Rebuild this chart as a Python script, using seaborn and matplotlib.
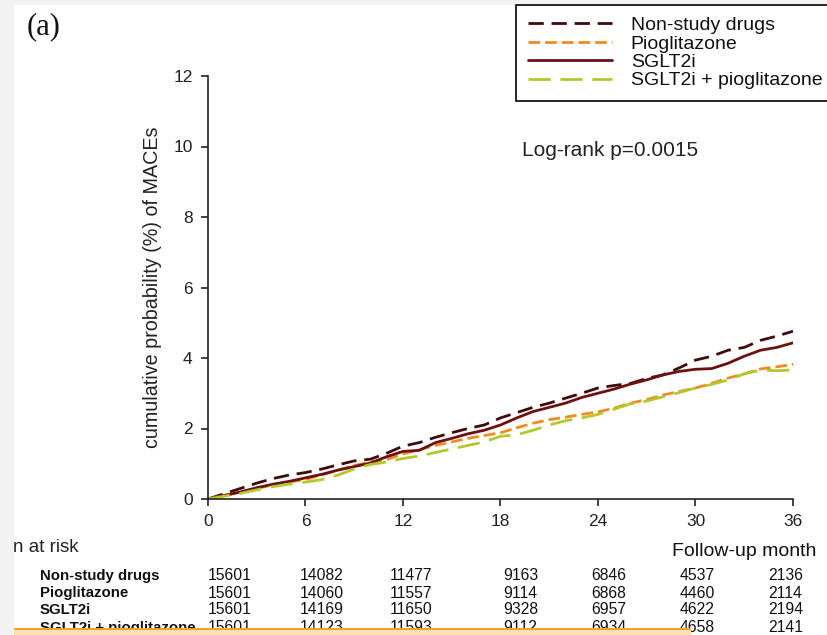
import numpy as np
import pandas as pd
import matplotlib
matplotlib.use("Agg")
import matplotlib.pyplot as plt
from matplotlib.patches import Rectangle
import seaborn as sns

months = list(range(0, 37))
non_study = [0, 0.15, 0.3, 0.45, 0.58, 0.68, 0.75, 0.85, 0.97, 1.08, 1.13, 1.3,
             1.5, 1.6, 1.75, 1.88, 2.0, 2.1, 2.3, 2.45, 2.6, 2.72, 2.86, 3.0,
             3.15, 3.22, 3.28, 3.42, 3.52, 3.72, 3.94, 4.05, 4.22, 4.3, 4.5, 4.62, 4.76]
sglt2i = [0, 0.1, 0.2, 0.32, 0.42, 0.5, 0.6, 0.7, 0.82, 0.92, 1.02, 1.2,
          1.35, 1.38, 1.6, 1.72, 1.85, 1.95, 2.1, 2.3, 2.48, 2.6, 2.72, 2.88,
          3.0, 3.12, 3.26, 3.38, 3.52, 3.62, 3.68, 3.7, 3.85, 4.05, 4.22, 4.3, 4.43]
pioglitazone = [0, 0.1, 0.2, 0.3, 0.4, 0.48, 0.56, 0.68, 0.82, 0.95, 1.05, 1.12,
                1.28, 1.4, 1.52, 1.62, 1.72, 1.8, 1.88, 2.02, 2.15, 2.25, 2.32, 2.4,
                2.47, 2.58, 2.72, 2.82, 2.95, 3.05, 3.15, 3.28, 3.43, 3.55, 3.69, 3.75, 3.82]
sglt2i_pio = [0, 0.08, 0.16, 0.26, 0.35, 0.42, 0.48, 0.55, 0.68, 0.85, 0.98, 1.05,
              1.15, 1.22, 1.32, 1.42, 1.52, 1.62, 1.78, 1.82, 1.95, 2.1, 2.22, 2.3,
              2.4, 2.55, 2.7, 2.78, 2.9, 3.02, 3.15, 3.25, 3.38, 3.55, 3.66, 3.64, 3.66]

groups = ["Non-study drugs", "Pioglitazone", "SGLT2i", "SGLT2i + pioglitazone"]
series = [non_study, pioglitazone, sglt2i, sglt2i_pio]
colors = ["#3f0b0b", "#f28a1e", "#6e1010", "#b3c82b"]
dash_styles = [(5.5, 2.8), (4.2, 1.8), "", (8, 3.5)]

risk_ticks = ["0", "6", "12", "18", "24", "30", "36"]
risk_non_study = [15601, 14082, 11477, 9163, 6846, 4537, 2136]
risk_pio = [15601, 14060, 11557, 9114, 6868, 4460, 2114]
risk_sglt2i = [15601, 14169, 11650, 9328, 6957, 4622, 2194]
risk_combo = [15601, 14123, 11593, 9112, 6934, 4658, 2141]

df = pd.concat([pd.DataFrame({"month": months, "prob": s, "group": g})
                for g, s in zip(groups, series)], ignore_index=True)

sns.set_style("ticks")
plt.rcParams["font.family"] = ["Liberation Sans", "DejaVu Sans"]

W, H = 828, 635
fig = plt.figure(figsize=(W / 100, H / 100), dpi=100)
fig.patch.set_facecolor("#f2f2f2")


def fx(px):
    return px / W


def fy(py):
    return 1 - py / H


bg = Rectangle((fx(14), 0), 1 - fx(14), 1 - 5 / H, transform=fig.transFigure,
               facecolor="white", edgecolor="none")
bg.set_zorder(-10)
fig.add_artist(bg)

ax = fig.add_axes([fx(208), fy(499), fx(793) - fx(208), fy(76) - fy(499)])
ax.set_facecolor("none")
ax.set_zorder(1)

sns.lineplot(data=df, x="month", y="prob", hue="group", style="group",
             hue_order=groups, style_order=groups,
             palette=dict(zip(groups, colors)),
             dashes=dict(zip(groups, dash_styles)),
             linewidth=2.0, legend=False, ax=ax)

ax.set_xlim(0, 36)
ax.set_ylim(0, 12)
ax.set_xticks([0, 6, 12, 18, 24, 30, 36])
ax.set_xticklabels(risk_ticks)
ax.set_yticks([0, 2, 4, 6, 8, 10, 12])
ax.set_xlabel("")
ax.set_ylabel("cumulative probability (%) of MACEs", fontsize=14.2, color="#222222", labelpad=8)
ax.tick_params(axis="both", labelsize=12.5, colors="#222222", length=5, width=1.2, pad=6)
for sp in ["top", "right"]:
    ax.spines[sp].set_visible(False)
for sp in ["left", "bottom"]:
    ax.spines[sp].set_linewidth(1.2)
    ax.spines[sp].set_color("#222222")

fig.text(fx(522), fy(150), "Log-rank p=0.0015", fontsize=15, color="#222222",
         va="center", ha="left")

handles = ax.get_lines()[:4]
leg = fig.legend(handles, groups, loc="upper left", bbox_to_anchor=(fx(516), fy(5)),
                 bbox_transform=fig.transFigure, borderaxespad=0, fontsize=14,
                 frameon=True, fancybox=False, edgecolor="black", framealpha=1,
                 handlelength=4.35, handletextpad=0.95, labelspacing=0.04,
                 borderpad=0.6)
leg.get_frame().set_linewidth(1.2)
leg.set_zorder(3)
for t in leg.get_texts():
    t.set_color("#111111")

fig.text(fx(27), fy(27), "(a)", fontsize=22, family=["Liberation Serif", "DejaVu Serif"],
         va="center", ha="left", color="#111111")

fig.text(fx(13), fy(548), "n at risk", fontsize=13.5, va="center", ha="left", color="#222222")
fig.text(fx(816), fy(552), "Follow-up month", fontsize=14, va="center", ha="right",
         color="#111111")

row_names = groups
row_vals = [risk_non_study, risk_pio, risk_sglt2i, risk_combo]
row_y = [576, 593, 610, 628]
col_x = [208, 300, 390, 503, 591, 680, 768]
for name, vals, yy in zip(row_names, row_vals, row_y):
    fig.text(fx(40), fy(yy), name, fontsize=10.8, weight="bold", va="center", ha="left",
             color="#111111")
    for v, xx in zip(vals, col_x):
        fig.text(fx(xx), fy(yy), str(v), fontsize=11.3, va="center", ha="left", color="#111111")

bar = Rectangle((fx(14), 0), fx(691) - fx(14), 6 / H, transform=fig.transFigure,
                facecolor="#fde0b2", edgecolor="none")
bar.set_zorder(20)
fig.add_artist(bar)
bar_edge = Rectangle((fx(14), 5 / H), fx(691) - fx(14), 2 / H, transform=fig.transFigure,
                     facecolor="#f5a02a", edgecolor="none")
bar_edge.set_zorder(21)
fig.add_artist(bar_edge)

fig.savefig("out.png", dpi=100, facecolor=fig.get_facecolor())
